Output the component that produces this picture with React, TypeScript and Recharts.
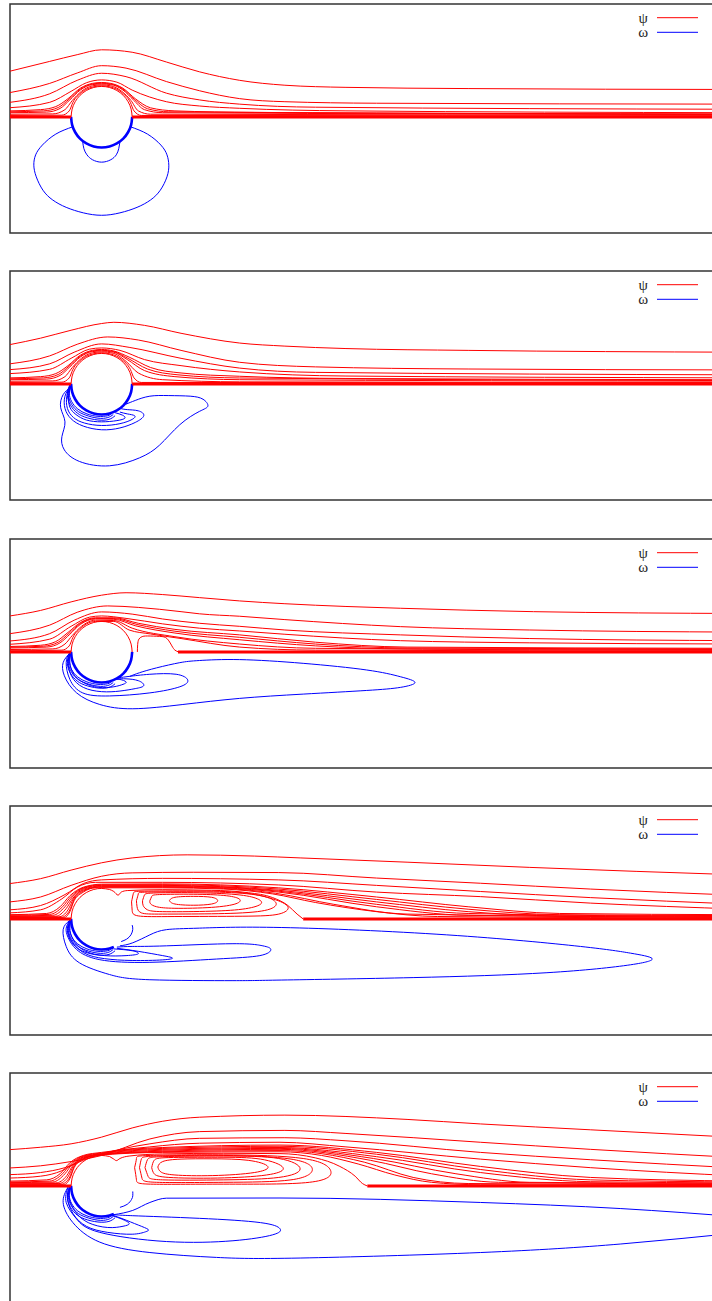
import React from 'react';
import { LineChart, Line, XAxis, YAxis, ReferenceArea, Legend } from 'recharts';

type Pt = [number, number];
type Curve = Pt[];

const X_DOMAIN: [number, number] = [-1.5, 10.5];
const Y_DOMAIN: [number, number] = [-1.9, 1.85];
const panelTops = [4, 271, 539, 806, 1073];
const legendLabels = ['ψ', 'ω'];
const RED = '#ff0000';
const BLUE = '#0000ff';

// ---------- cylinder (radius 0.5) ----------
const cylinderTop: Curve = [[-0.5, 0], [-0.483, 0.129], [-0.433, 0.25], [-0.354, 0.354], [-0.25, 0.433], [-0.129, 0.483], [0, 0.5], [0.129, 0.483], [0.25, 0.433], [0.354, 0.354], [0.433, 0.25], [0.483, 0.129], [0.5, 0]];
const cylinderBottom: Curve = [[-0.5, 0], [-0.483, -0.129], [-0.433, -0.25], [-0.354, -0.354], [-0.25, -0.433], [-0.129, -0.483], [0, -0.5], [0.129, -0.483], [0.25, -0.433], [0.354, -0.354], [0.433, -0.25], [0.483, -0.129], [0.5, 0]];
const cylinderTopFront: Curve = [[-0.5, 0], [-0.483, 0.129], [-0.433, 0.25], [-0.354, 0.354], [-0.25, 0.433], [-0.129, 0.483], [0, 0.5], [0.129, 0.483]];
const cylinderBottomFront: Curve = [[-0.5, 0], [-0.483, -0.129], [-0.433, -0.25], [-0.354, -0.354], [-0.25, -0.433], [-0.129, -0.483], [0, -0.5], [0.129, -0.483], [0.2, -0.458]];

// vorticity lines hugging the lower front of the cylinder (panels 2-5)
const wallHugging: Curve[] = [
  [[-0.51, -0.01], [-0.545, -0.15], [-0.51, -0.3], [-0.41, -0.43], [-0.26, -0.51], [-0.06, -0.56], [0.1, -0.55], [0.19, -0.5]],
  [[-0.505, -0.01], [-0.53, -0.15], [-0.49, -0.29], [-0.39, -0.41], [-0.24, -0.49], [-0.06, -0.53], [0.1, -0.52], [0.17, -0.48]],
  [[-0.52, -0.01], [-0.56, -0.15], [-0.53, -0.31], [-0.43, -0.45], [-0.28, -0.54], [-0.06, -0.59], [0.12, -0.58], [0.22, -0.52]],
];

// ---------- panel 1 ----------
const p1Axis: Curve[] = [[[-1.5, 0], [-0.5, 0]], [[0.5, 0], [10.5, 0]]];
const p1Streamlines: Curve[] = [
  [[-1.5, 0.75], [-0.85, 0.91], [-0.4, 1.02], [0, 1.1], [0.5, 1.06], [1.06, 0.9], [1.6, 0.74], [2.26, 0.6], [3, 0.52], [4, 0.485], [6, 0.465], [10.5, 0.45]],
  [[-1.5, 0.4], [-0.85, 0.55], [-0.4, 0.72], [0, 0.84], [0.4, 0.8], [1.06, 0.58], [1.6, 0.43], [2.26, 0.3], [3, 0.25], [4.5, 0.225], [10.5, 0.21]],
  [[-1.5, 0.24], [-0.85, 0.38], [-0.4, 0.6], [0, 0.716], [0.4, 0.66], [1.06, 0.39], [1.6, 0.28], [2.26, 0.21], [3.5, 0.16], [10.5, 0.126]],
  [[-1.5, 0.152], [-0.85, 0.24], [-0.5, 0.42], [-0.25, 0.56], [0, 0.607], [0.25, 0.57], [0.5, 0.44], [1.06, 0.25], [1.6, 0.18], [2.26, 0.142], [4, 0.1], [10.5, 0.07]],
  [[-1.5, 0.1], [-1, 0.12], [-0.75, 0.17], [-0.55, 0.3], [-0.35, 0.47], [-0.15, 0.55], [0, 0.565], [0.15, 0.55], [0.35, 0.47], [0.55, 0.3], [0.8, 0.15], [1.2, 0.1], [2.5, 0.075], [10.5, 0.05]],
  [[-1.5, 0.085], [-0.95, 0.1], [-0.71, 0.155], [-0.535, 0.29], [-0.35, 0.455], [-0.15, 0.54], [0, 0.552], [0.15, 0.54], [0.35, 0.455], [0.535, 0.29], [0.75, 0.135], [1.1, 0.085], [10.5, 0.045]],
  [[-1.5, 0.07], [-0.9, 0.08], [-0.68, 0.14], [-0.52, 0.28], [-0.35, 0.44], [-0.15, 0.53], [0, 0.54], [0.15, 0.53], [0.35, 0.44], [0.52, 0.28], [0.7, 0.12], [1, 0.07], [10.5, 0.04]],
  [[-1.5, 0.045], [-0.8, 0.05], [-0.6, 0.12], [-0.48, 0.27], [-0.33, 0.42], [-0.15, 0.51], [0, 0.525], [0.15, 0.51], [0.33, 0.42], [0.48, 0.27], [0.6, 0.1], [0.8, 0.045], [10.5, 0.03]],
  [[-1.5, 0.025], [-0.65, 0.03], [-0.53, 0.1], [-0.47, 0.24], [-0.33, 0.4], [-0.15, 0.49], [0, 0.51], [0.15, 0.49], [0.33, 0.4], [0.47, 0.24], [0.53, 0.1], [0.65, 0.025], [10.5, 0.018]],
];
const p1Vorticity: Curve[] = [
  [[-0.31, -0.4], [-0.29, -0.52], [-0.24, -0.62], [-0.15, -0.7], [0, -0.74], [0.15, -0.7], [0.24, -0.62], [0.28, -0.52], [0.3, -0.41]],
  [[-0.47, -0.16], [-0.75, -0.28], [-0.97, -0.46], [-1.08, -0.62], [-1.11, -0.79], [-1.07, -0.98], [-0.96, -1.2], [-0.8, -1.36], [-0.58, -1.48], [-0.3, -1.57], [0, -1.61], [0.3, -1.57], [0.58, -1.48], [0.8, -1.36], [0.96, -1.2], [1.07, -0.98], [1.1, -0.79], [1.07, -0.62], [0.97, -0.46], [0.75, -0.28], [0.47, -0.16]],
];

// ---------- panel 2 ----------
const p2Axis: Curve[] = [[[-1.5, 0], [-0.5, 0]], [[0.5, 0], [10.5, 0]]];
const p2Streamlines: Curve[] = [
  [[-1.5, 0.645], [-1, 0.75], [-0.5, 0.88], [0, 0.99], [0.2, 1.01], [0.7, 0.96], [1.3, 0.83], [2.26, 0.67], [3, 0.62], [4, 0.58], [6, 0.55], [10.5, 0.52]],
  [[-1.5, 0.33], [-0.85, 0.46], [-0.4, 0.65], [0.1, 0.77], [0.6, 0.72], [1.3, 0.55], [2.26, 0.355], [3.5, 0.28], [6, 0.245], [10.5, 0.23]],
  [[-1.5, 0.235], [-0.85, 0.33], [-0.45, 0.52], [0, 0.656], [0.45, 0.6], [1.3, 0.42], [2.26, 0.26], [3.5, 0.19], [10.5, 0.15]],
  [[-1.5, 0.17], [-0.85, 0.24], [-0.5, 0.42], [-0.2, 0.57], [0, 0.59], [0.3, 0.55], [0.7, 0.4], [1.3, 0.3], [2.26, 0.197], [4, 0.13], [10.5, 0.1]],
  [[-1.5, 0.1], [-1, 0.12], [-0.75, 0.17], [-0.55, 0.3], [-0.35, 0.47], [-0.15, 0.55], [0, 0.565], [0.2, 0.54], [0.45, 0.44], [0.8, 0.27], [1.3, 0.18], [2.26, 0.126], [4, 0.09], [10.5, 0.07]],
  [[-1.5, 0.085], [-0.95, 0.1], [-0.71, 0.155], [-0.535, 0.29], [-0.35, 0.455], [-0.15, 0.54], [0, 0.552], [0.2, 0.53], [0.43, 0.42], [0.75, 0.245], [1.25, 0.15], [2.26, 0.098], [10.5, 0.055]],
  [[-1.5, 0.07], [-0.9, 0.08], [-0.68, 0.14], [-0.52, 0.28], [-0.35, 0.44], [-0.15, 0.53], [0, 0.54], [0.2, 0.52], [0.42, 0.4], [0.7, 0.22], [1.2, 0.12], [2.26, 0.07], [10.5, 0.045]],
  [[-1.5, 0.045], [-0.8, 0.05], [-0.6, 0.12], [-0.48, 0.27], [-0.33, 0.42], [-0.15, 0.51], [0, 0.525], [0.2, 0.5], [0.4, 0.37], [0.6, 0.18], [1, 0.07], [2.26, 0.035], [10.5, 0.025]],
  [[-1.5, 0.025], [-0.65, 0.03], [-0.53, 0.1], [-0.47, 0.24], [-0.33, 0.4], [-0.15, 0.49], [0, 0.51], [0.15, 0.49], [0.33, 0.4], [0.47, 0.24], [0.53, 0.1], [0.65, 0.025], [10.5, 0.018]],
];
const p2Vorticity: Curve[] = [
  [[-0.5, -0.05], [-0.63, -0.175], [-0.67, -0.39], [-0.6, -0.62], [-0.65, -0.86], [-0.61, -1.08], [-0.36, -1.27], [0.13, -1.34], [0.62, -1.21], [0.95, -1.0], [1.28, -0.667], [1.6, -0.45], [1.74, -0.36], [1.66, -0.25], [1.45, -0.2], [1.1, -0.19], [0.79, -0.2], [0.55, -0.27], [0.4, -0.33]],
  [[-0.51, -0.03], [-0.6, -0.2], [-0.6, -0.4], [-0.5, -0.57], [-0.3, -0.69], [0, -0.75], [0.3, -0.72], [0.55, -0.63], [0.69, -0.52], [0.6, -0.44], [0.42, -0.42], [0.3, -0.4]],
  [[-0.51, -0.02], [-0.57, -0.2], [-0.56, -0.4], [-0.46, -0.55], [-0.28, -0.64], [0, -0.68], [0.3, -0.65], [0.5, -0.58], [0.54, -0.52], [0.42, -0.49], [0.3, -0.46]],
  [[-0.5, -0.02], [-0.54, -0.2], [-0.52, -0.38], [-0.42, -0.5], [-0.25, -0.59], [0, -0.62], [0.25, -0.6], [0.38, -0.56], [0.34, -0.51], [0.22, -0.47]],
  ...wallHugging,
];

// ---------- panel 3 ----------
const p3Axis: Curve[] = [[[-1.5, 0], [-0.5, 0]], [[1.25, 0], [10.5, 0]]];
const p3Streamlines: Curve[] = [
  [[-1.5, 0.59], [-1, 0.68], [-0.5, 0.82], [0, 0.93], [0.4, 0.97], [1, 0.94], [1.6, 0.89], [2.26, 0.836], [3, 0.79], [4, 0.745], [4.89, 0.716], [7.07, 0.66], [10.5, 0.63]],
  [[-1.5, 0.3], [-0.85, 0.44], [-0.4, 0.65], [0.1, 0.754], [0.6, 0.73], [1.3, 0.66], [1.6, 0.625], [2.26, 0.585], [3, 0.53], [4.89, 0.415], [7, 0.36], [10.5, 0.325]],
  [[-1.5, 0.18], [-0.85, 0.3], [-0.45, 0.52], [0, 0.656], [0.5, 0.62], [1, 0.54], [1.6, 0.47], [2.26, 0.42], [3, 0.36], [4.89, 0.28], [7, 0.22], [10.5, 0.185]],
  [[-1.5, 0.126], [-0.85, 0.21], [-0.5, 0.42], [-0.2, 0.57], [0, 0.59], [0.4, 0.55], [1, 0.46], [1.6, 0.39], [2.26, 0.344], [3, 0.29], [4.89, 0.185], [7, 0.15], [10.5, 0.13]],
  [[-1.5, 0.09], [-1, 0.11], [-0.75, 0.17], [-0.55, 0.32], [-0.35, 0.48], [-0.1, 0.56], [0.2, 0.56], [0.6, 0.47], [1.2, 0.37], [2.26, 0.28], [3.5, 0.16], [5, 0.08], [10.5, 0.06]],
  [[-1.5, 0.078], [-0.95, 0.095], [-0.71, 0.16], [-0.535, 0.305], [-0.35, 0.465], [-0.1, 0.55], [0.2, 0.548], [0.58, 0.45], [1.2, 0.34], [2.26, 0.24], [3.5, 0.13], [5, 0.065], [10.5, 0.05]],
  [[-1.5, 0.065], [-0.9, 0.08], [-0.68, 0.15], [-0.52, 0.29], [-0.35, 0.45], [-0.1, 0.54], [0.2, 0.535], [0.55, 0.43], [1.2, 0.31], [2.26, 0.2], [3.5, 0.1], [5, 0.05], [10.5, 0.04]],
  [[-1.5, 0.04], [-0.8, 0.05], [-0.6, 0.13], [-0.48, 0.27], [-0.33, 0.42], [-0.1, 0.52], [0.2, 0.515], [0.5, 0.39], [1.2, 0.25], [2.26, 0.13], [3.5, 0.06], [10.5, 0.025]],
  [[-1.5, 0.02], [-0.65, 0.03], [-0.53, 0.1], [-0.47, 0.24], [-0.33, 0.4], [-0.1, 0.5], [0.2, 0.5], [0.45, 0.36], [0.8, 0.295], [1.3, 0.22], [2.26, 0.08], [3.5, 0.03], [10.5, 0.015]],
];
const p3Bubble: Curve[] = [
  [[0.585, 0], [0.59, 0.12], [0.61, 0.21], [0.66, 0.25], [0.75, 0.262], [0.95, 0.255], [1.07, 0.22], [1.15, 0.1], [1.2, 0.03], [1.26, 0]],
];
const p3Vorticity: Curve[] = [
  [[-0.53, -0.03], [-0.63, -0.175], [-0.61, -0.39], [-0.41, -0.67], [-0.03, -0.86], [0.51, -0.93], [1.33, -0.86], [2.26, -0.76], [3.3, -0.69], [4.34, -0.63], [4.89, -0.58], [5.13, -0.5], [4.89, -0.405], [4.34, -0.295], [3.3, -0.186], [2.26, -0.125], [1.6, -0.14], [1.28, -0.175], [0.9, -0.26], [0.62, -0.34], [0.46, -0.4]],
  [[-0.53, -0.02], [-0.58, -0.175], [-0.52, -0.45], [-0.31, -0.67], [0.13, -0.72], [0.79, -0.67], [1.28, -0.57], [1.41, -0.46], [1.22, -0.365], [0.79, -0.365], [0.45, -0.4], [0.3, -0.42]],
  [[-0.52, -0.02], [-0.55, -0.17], [-0.49, -0.4], [-0.3, -0.58], [0, -0.65], [0.3, -0.64], [0.55, -0.6], [0.69, -0.55], [0.6, -0.47], [0.4, -0.44], [0.25, -0.44]],
  [[-0.51, -0.02], [-0.52, -0.17], [-0.46, -0.36], [-0.3, -0.5], [-0.05, -0.58], [0.2, -0.57], [0.35, -0.53], [0.4, -0.49], [0.3, -0.45], [0.2, -0.45]],
  ...wallHugging,
];

// ---------- panel 4 ----------
const p4Axis: Curve[] = [[[-1.5, 0], [-0.5, 0]], [[3.3, 0], [10.5, 0]]];
const p4Streamlines: Curve[] = [
  [[-1.5, 0.58], [-1, 0.66], [-0.5, 0.8], [0, 0.92], [0.5, 1.0], [1.4, 1.05], [2.5, 1.03], [3.25, 1.0], [5, 0.93], [7, 0.845], [10.5, 0.72]],
  [[-1.5, 0.28], [-1, 0.36], [-0.5, 0.55], [0, 0.7], [0.5, 0.755], [1.5, 0.765], [2.9, 0.76], [4.5, 0.67], [6.2, 0.585], [8, 0.49], [10.5, 0.385]],
  [[-1.5, 0.15], [-1, 0.22], [-0.6, 0.4], [-0.3, 0.58], [0, 0.64], [1, 0.665], [2.9, 0.64], [4.5, 0.55], [6.2, 0.45], [8, 0.35], [10.5, 0.24]],
  [[-1.5, 0.1], [-1, 0.15], [-0.65, 0.33], [-0.4, 0.52], [-0.1, 0.6], [1, 0.6], [2.9, 0.557], [4.5, 0.44], [6.2, 0.366], [8, 0.26], [10.5, 0.16]],
  [[-1.5, 0.07], [-0.9, 0.09], [-0.68, 0.2], [-0.52, 0.38], [-0.3, 0.52], [0, 0.57], [1, 0.575], [2.9, 0.51], [4.5, 0.36], [6, 0.2], [7.5, 0.09], [10.5, 0.07]],
  [[-1.5, 0.06], [-0.85, 0.075], [-0.64, 0.2], [-0.5, 0.37], [-0.3, 0.51], [0, 0.56], [1, 0.562], [2.9, 0.49], [4.5, 0.32], [6, 0.16], [7.5, 0.07], [10.5, 0.055]],
  [[-1.5, 0.05], [-0.8, 0.06], [-0.6, 0.2], [-0.48, 0.36], [-0.3, 0.5], [0, 0.55], [1, 0.55], [2.9, 0.47], [4.5, 0.28], [6, 0.12], [7.5, 0.05], [10.5, 0.045]],
  [[-1.5, 0.04], [-0.75, 0.045], [-0.58, 0.17], [-0.47, 0.34], [-0.3, 0.485], [0, 0.54], [1, 0.54], [2, 0.52], [2.9, 0.455], [4.5, 0.24], [6, 0.09], [10.5, 0.038]],
  [[-1.5, 0.03], [-0.7, 0.035], [-0.55, 0.15], [-0.46, 0.33], [-0.3, 0.47], [0, 0.53], [1, 0.53], [2, 0.51], [2.9, 0.44], [4.5, 0.2], [6, 0.06], [10.5, 0.03]],
  [[-1.5, 0.022], [-0.66, 0.027], [-0.53, 0.13], [-0.455, 0.31], [-0.3, 0.455], [-0.05, 0.52], [1, 0.52], [2, 0.5], [2.85, 0.42], [3.8, 0.24], [5, 0.08], [10.5, 0.022]],
  [[-1.5, 0.015], [-0.62, 0.02], [-0.52, 0.12], [-0.45, 0.3], [-0.3, 0.44], [-0.1, 0.51], [1, 0.51], [2, 0.49], [2.8, 0.41], [3.5, 0.27], [4.5, 0.12], [5.5, 0.04], [10.5, 0.015]],
  [[0.129, 0.483], [0.2, 0.45], [0.27, 0.39], [0.32, 0.44], [0.42, 0.465], [1, 0.48], [1.8, 0.47], [2.4, 0.43], [2.8, 0.35], [3.05, 0.22], [3.2, 0.08], [3.3, 0]],
];
const p4Eddies: Curve[] = [
  [[1.11, 0.3], [1.2, 0.355], [1.5, 0.37], [1.8, 0.355], [1.9, 0.3], [1.8, 0.245], [1.5, 0.225], [1.2, 0.245], [1.11, 0.3]],
  [[0.79, 0.3], [0.82, 0.37], [0.95, 0.4], [1.5, 0.405], [2, 0.385], [2.25, 0.33], [2.2, 0.25], [1.8, 0.19], [1.2, 0.175], [0.9, 0.2], [0.8, 0.25], [0.79, 0.3]],
  [[0.67, 0.3], [0.7, 0.39], [0.85, 0.425], [1.5, 0.43], [2.2, 0.4], [2.55, 0.33], [2.6, 0.24], [2.3, 0.16], [1.7, 0.125], [1, 0.12], [0.75, 0.15], [0.68, 0.22], [0.67, 0.3]],
  [[0.57, 0.3], [0.6, 0.41], [0.75, 0.44], [1.5, 0.445], [2.3, 0.42], [2.75, 0.34], [2.85, 0.22], [2.55, 0.12], [1.8, 0.085], [1, 0.08], [0.65, 0.1], [0.58, 0.2], [0.57, 0.3]],
  [[0.49, 0.28], [0.52, 0.42], [0.7, 0.455], [1.5, 0.46], [2.3, 0.43], [2.8, 0.33], [3.05, 0.2], [2.9, 0.08], [2.3, 0.045], [1.2, 0.04], [0.6, 0.05], [0.5, 0.14], [0.49, 0.28]],
];
const p4Vorticity: Curve[] = [
  [[-0.53, -0.03], [-0.63, -0.175], [-0.58, -0.45], [-0.36, -0.72], [0.13, -0.91], [0.79, -0.995], [2.15, -1.01], [2.95, -1.0], [5.1, -0.96], [7.29, -0.88], [8.66, -0.75], [9.01, -0.645], [8.66, -0.56], [7.84, -0.45], [5.65, -0.26], [2.95, -0.14], [1.6, -0.15], [1.06, -0.175], [0.79, -0.26], [0.51, -0.39], [0.3, -0.44]],
  [[-0.52, -0.02], [-0.58, -0.15], [-0.55, -0.3], [-0.41, -0.5], [-0.03, -0.667], [0.79, -0.71], [1.88, -0.656], [2.59, -0.6], [2.77, -0.5], [2.64, -0.44], [2.15, -0.405], [1.06, -0.44], [0.5, -0.45], [0.25, -0.46]],
  [[-0.51, -0.02], [-0.55, -0.15], [-0.51, -0.33], [-0.3, -0.55], [0.05, -0.65], [0.5, -0.68], [1, -0.67], [1.16, -0.64], [1, -0.6], [0.6, -0.53], [0.25, -0.48]],
  [[-0.5, -0.02], [-0.52, -0.15], [-0.47, -0.33], [-0.28, -0.52], [0.05, -0.6], [0.4, -0.6], [0.6, -0.57], [0.5, -0.52], [0.2, -0.49]],
  [[0.5, -0.1], [0.51, -0.17], [0.48, -0.26], [0.41, -0.33], [0.32, -0.37]],
  ...wallHugging,
];

// ---------- panel 5 ----------
const p5Axis: Curve[] = [[[-1.5, 0], [-0.5, 0]], [[4.35, 0], [10.5, 0]]];
const p5Streamlines: Curve[] = [
  [[-1.5, 0.595], [-1, 0.634], [-0.5, 0.69], [0, 0.8], [0.5, 0.95], [1, 1.06], [1.6, 1.126], [3, 1.16], [5, 1.09], [6.2, 1.016], [8, 0.92], [10.5, 0.79]],
  [[-1.5, 0.295], [-1, 0.33], [-0.5, 0.4], [0, 0.5], [0.79, 0.77], [1.6, 0.89], [3, 0.91], [4, 0.86], [6.2, 0.716], [8, 0.6], [10.5, 0.46]],
  [[-1.5, 0.186], [-1, 0.22], [-0.6, 0.3], [-0.2, 0.46], [0.3, 0.6], [0.79, 0.69], [1.6, 0.78], [3, 0.79], [4, 0.74], [6.2, 0.55], [8, 0.43], [10.5, 0.29]],
  [[-1.5, 0.13], [-1, 0.16], [-0.65, 0.25], [-0.35, 0.42], [0, 0.53], [0.79, 0.64], [1.6, 0.7], [2.92, 0.716], [4, 0.64], [6.2, 0.44], [8, 0.3], [10.5, 0.16]],
  [[-1.5, 0.08], [-0.9, 0.1], [-0.68, 0.2], [-0.52, 0.38], [-0.3, 0.5], [0, 0.55], [1, 0.63], [2.92, 0.67], [4.5, 0.55], [6.2, 0.32], [8, 0.14], [10.5, 0.08]],
  [[-1.5, 0.065], [-0.85, 0.08], [-0.64, 0.2], [-0.5, 0.37], [-0.3, 0.49], [0, 0.54], [1, 0.615], [2.92, 0.65], [4.5, 0.52], [6.2, 0.27], [8, 0.1], [10.5, 0.065]],
  [[-1.5, 0.055], [-0.8, 0.065], [-0.6, 0.2], [-0.48, 0.36], [-0.3, 0.48], [0, 0.53], [1, 0.6], [2.92, 0.63], [4.5, 0.48], [6.2, 0.22], [8, 0.07], [10.5, 0.05]],
  [[-1.5, 0.045], [-0.75, 0.05], [-0.57, 0.17], [-0.47, 0.34], [-0.3, 0.47], [0, 0.52], [1, 0.585], [2.92, 0.615], [4.45, 0.45], [5.8, 0.2], [7, 0.06], [10.5, 0.04]],
  [[-1.5, 0.035], [-0.7, 0.04], [-0.55, 0.15], [-0.46, 0.33], [-0.3, 0.46], [0, 0.515], [1, 0.57], [2.92, 0.6], [4.4, 0.42], [5.4, 0.2], [6.5, 0.06], [10.5, 0.03]],
  [[-1.5, 0.026], [-0.66, 0.03], [-0.53, 0.13], [-0.455, 0.31], [-0.3, 0.45], [-0.05, 0.505], [1, 0.56], [2.92, 0.58], [4.3, 0.39], [5.1, 0.14], [6, 0.04], [10.5, 0.022]],
  [[-1.5, 0.018], [-0.62, 0.02], [-0.52, 0.12], [-0.45, 0.3], [-0.3, 0.44], [-0.1, 0.5], [1, 0.55], [2.92, 0.56], [3.6, 0.5], [4.2, 0.36], [4.8, 0.18], [5.4, 0.06], [6.2, 0.02], [10.5, 0.015]],
  [[0.129, 0.483], [0.2, 0.44], [0.24, 0.415], [0.3, 0.45], [0.45, 0.49], [1, 0.525], [2, 0.535], [2.92, 0.53], [3.5, 0.46], [3.9, 0.32], [4.15, 0.16], [4.27, 0.04], [4.35, 0]],
];
const p5Eddies: Curve[] = [
  [[0.92, 0.31], [1, 0.4], [1.3, 0.44], [1.82, 0.445], [2.4, 0.42], [2.72, 0.32], [2.5, 0.22], [1.82, 0.17], [1.2, 0.18], [0.97, 0.23], [0.92, 0.31]],
  [[0.82, 0.3], [0.86, 0.42], [1.1, 0.465], [1.9, 0.47], [2.6, 0.44], [2.97, 0.3], [2.7, 0.18], [1.9, 0.13], [1.1, 0.14], [0.86, 0.2], [0.82, 0.3]],
  [[0.71, 0.3], [0.75, 0.43], [1, 0.48], [2, 0.49], [2.9, 0.45], [3.25, 0.28], [2.9, 0.14], [2, 0.1], [1, 0.1], [0.76, 0.16], [0.71, 0.3]],
  [[0.62, 0.3], [0.65, 0.44], [0.9, 0.49], [2, 0.5], [3.1, 0.44], [3.45, 0.27], [3.1, 0.1], [2, 0.06], [0.9, 0.06], [0.66, 0.13], [0.62, 0.3]],
  [[0.54, 0.3], [0.57, 0.45], [0.8, 0.5], [2, 0.51], [3.3, 0.45], [3.75, 0.25], [3.4, 0.06], [2, 0.03], [0.8, 0.03], [0.57, 0.1], [0.54, 0.3]],
];
const p5Vorticity: Curve[] = [
  [[-0.55, -0.02], [-0.63, -0.27], [-0.47, -0.6], [-0.03, -0.92], [0.79, -1.09], [1.88, -1.17], [3.25, -1.18], [6.2, -1.09], [8.5, -0.95], [10.5, -0.76]],
  [[-0.55, -0.02], [-0.58, -0.27], [-0.41, -0.54], [-0.03, -0.76], [1.06, -0.91], [2.15, -0.897], [2.8, -0.8], [2.92, -0.7], [2.6, -0.6], [1.6, -0.53], [0.51, -0.487], [0.2, -0.47]],
  [[-0.53, -0.02], [-0.56, -0.2], [-0.47, -0.45], [-0.25, -0.66], [0.1, -0.76], [0.5, -0.79], [0.72, -0.75], [0.76, -0.71], [0.6, -0.64], [0.35, -0.54], [0.18, -0.48]],
  [[-0.52, -0.02], [-0.53, -0.2], [-0.43, -0.42], [-0.22, -0.6], [0.1, -0.68], [0.35, -0.66], [0.45, -0.61], [0.3, -0.53], [0.15, -0.48]],
  [[0.51, -0.09], [0.51, -0.16], [0.49, -0.22], [0.42, -0.3], [0.3, -0.35]],
  ...wallHugging,
];
const p5VorticityUpper: Curve[] = [
  [[0.2, -0.47], [0.51, -0.4], [0.79, -0.27], [1.06, -0.2], [2.92, -0.197], [6.2, -0.27], [8.5, -0.37], [10.5, -0.51]],
];

type PanelSpec = {
  psiAxis: Curve[];
  psiSmooth: Curve[];
  psiLoops: Curve[];
  omegaWall: Curve[];
  omegaLoops: Curve[];
  omegaSmooth: Curve[];
};

const panels: PanelSpec[] = [
  { psiAxis: p1Axis, psiSmooth: p1Streamlines, psiLoops: [cylinderTop], omegaWall: [cylinderBottom], omegaLoops: p1Vorticity, omegaSmooth: [] },
  { psiAxis: p2Axis, psiSmooth: p2Streamlines, psiLoops: [cylinderTop], omegaWall: [cylinderBottom], omegaLoops: p2Vorticity, omegaSmooth: [] },
  { psiAxis: p3Axis, psiSmooth: p3Streamlines, psiLoops: [cylinderTop, ...p3Bubble], omegaWall: [cylinderBottom], omegaLoops: p3Vorticity, omegaSmooth: [] },
  { psiAxis: p4Axis, psiSmooth: p4Streamlines, psiLoops: [cylinderTopFront, ...p4Eddies], omegaWall: [cylinderBottomFront], omegaLoops: p4Vorticity, omegaSmooth: [] },
  { psiAxis: p5Axis, psiSmooth: p5Streamlines, psiLoops: [cylinderTopFront, ...p5Eddies], omegaWall: [cylinderBottomFront], omegaLoops: p5Vorticity, omegaSmooth: p5VorticityUpper },
];

const toData = (c: Curve) => c.map(([x, y]) => ({ x, y }));

const renderCurves = (curves: Curve[], key: string, color: string, type: any, width: number) =>
  curves.map((c, i) => (
    <Line
      key={`${key}-${i}`}
      data={toData(c)}
      dataKey="y"
      type={type}
      stroke={color}
      strokeWidth={width}
      dot={false}
      activeDot={false}
      isAnimationActive={false}
      legendType="none"
    />
  ));

const LegendBox = () => (
  <svg width={70} height={34} style={{ display: 'block' }}>
    <text x={10} y={15} textAnchor="end" fontFamily="Liberation Serif, serif" fontSize={15} fill="#222">{legendLabels[0]}</text>
    <line x1={19} x2={60} y1={9.7} y2={9.7} stroke={RED} strokeWidth={1} />
    <text x={10} y={28.5} textAnchor="end" fontFamily="Liberation Serif, serif" fontSize={15} fill="#222">{legendLabels[1]}</text>
    <line x1={19} x2={60} y1={24.3} y2={24.3} stroke={BLUE} strokeWidth={1} />
  </svg>
);

function Panel({ spec, top }: { spec: PanelSpec; top: number }) {
  return (
    <div style={{ position: 'absolute', left: 8, top: top - 2 }}>
      <LineChart width={737} height={233} margin={{ top: 2, right: 2, bottom: 2, left: 2 }}>
        <XAxis type="number" dataKey="x" domain={X_DOMAIN} hide allowDataOverflow />
        <YAxis type="number" dataKey="y" domain={Y_DOMAIN} hide allowDataOverflow />
        <ReferenceArea x1={X_DOMAIN[0]} x2={X_DOMAIN[1]} y1={Y_DOMAIN[0]} y2={Y_DOMAIN[1]} fill="none" fillOpacity={0} stroke="#333" strokeWidth={1.5} />
        {renderCurves(spec.omegaWall, 'ow', BLUE, 'natural', 2.6)}
        {renderCurves(spec.omegaLoops, 'ol', BLUE, 'natural', 1)}
        {renderCurves(spec.omegaSmooth, 'os', BLUE, 'monotone', 1)}
        {renderCurves(spec.psiSmooth, 'ps', RED, 'monotone', 1)}
        {renderCurves(spec.psiLoops, 'pl', RED, 'natural', 1)}
        {renderCurves(spec.psiAxis, 'pa', RED, 'linear', 3)}
        <Legend
          layout="vertical"
          align="center"
          verticalAlign="middle"
          wrapperStyle={{ left: 630, top: 6, width: 70, height: 34 }}
          content={() => <LegendBox />}
        />
      </LineChart>
    </div>
  );
}

export default function App() {
  return (
    <div style={{ position: 'absolute', left: 0, top: 0, width: 712, height: 1301, overflow: 'hidden', background: '#fff' }}>
      {panels.map((spec, i) => (
        <Panel key={i} spec={spec} top={panelTops[i]} />
      ))}
    </div>
  );
}
